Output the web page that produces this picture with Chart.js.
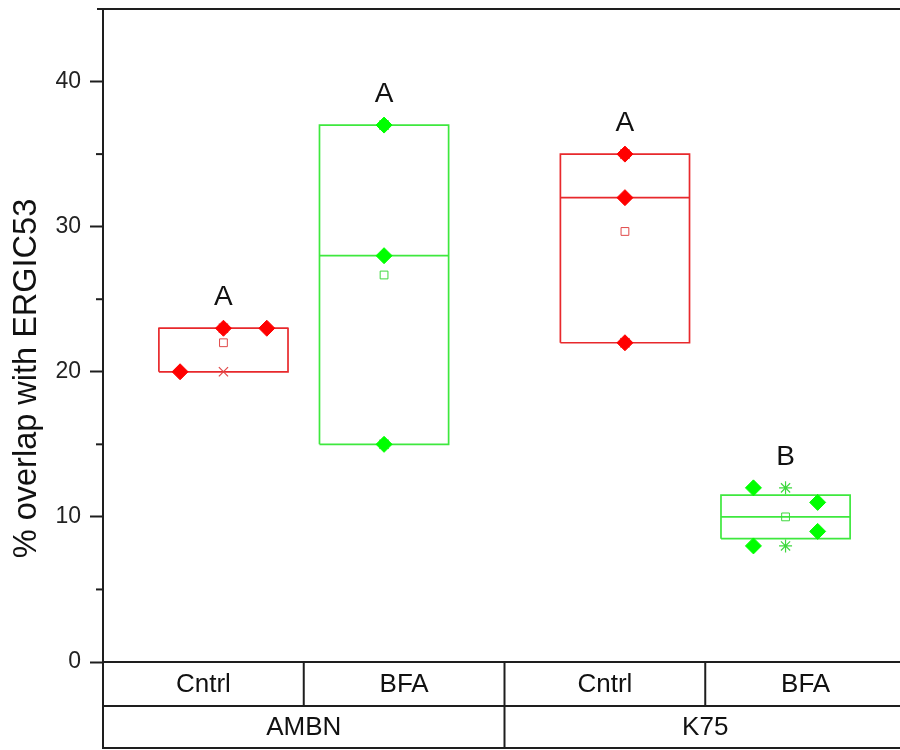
<!DOCTYPE html>
<html><head><meta charset="utf-8">
<script src="https://cdn.jsdelivr.net/npm/chart.js@4/dist/chart.umd.min.js"></script>
<style>html,body{margin:0;padding:0;background:#fff;overflow:hidden}canvas{display:block}</style>
</head><body><canvas id="c" width="915" height="750"></canvas>
<script>
// ---- data ----
const groups = ['AMBN', 'K75'];
const treatments = ['Cntrl', 'BFA', 'Cntrl', 'BFA'];
const ambnCntrl = [20, 23, 23];
const ambnBfa = [15, 28, 37];
const k75Cntrl = [22, 32, 35];
const k75Bfa = [8, 12, 9, 11];
const q1 = [20, 15, 22, 8.5];
const medians = [23, 28, 32, 10];
const q3 = [23, 37, 35, 11.5];
const means = [22, 26.67, 29.67, 10];
const pctLow = [20, 15, 22, 8];
const pctHigh = [23, 37, 35, 12];
const letters = ['A', 'A', 'A', 'B'];
const yTicks = [0, 10, 20, 30, 40];
const yMinorTicks = [5, 15, 25, 35];
const yTitle = '% overlap with ERGIC53';

// ---- layout / style (not data) ----
const rawSets = [ambnCntrl, ambnBfa, k75Cntrl, k75Bfa];
const jitter = [[-0.27, 0, 0.27], [0, 0, 0], [0, 0, 0], [-0.2, -0.2, 0.2, 0.2]];
const pos = i => 1 + i + 0.5 * Math.floor(i / 2);
const HALF = 0.402;
const FONT = "'Liberation Sans', Arial, sans-serif";
const INK = '#1e1e1e';
const palette = {
  Cntrl: { mark: '#ff0000', line: '#e8292c', mean: '#e04848' },
  BFA: { mark: '#00ff00', line: '#3ee83e', mean: '#3fd83f' }
};

const datasets = [];
treatments.forEach((t, i) => {
  const c = palette[t];
  const p = pos(i);
  datasets.push({
    data: [{x: p - HALF, y: q1[i]}, {x: p + HALF, y: q1[i]}, {x: p + HALF, y: q3[i]}, {x: p - HALF, y: q3[i]}, {x: p - HALF, y: q1[i]}],
    showLine: true, borderColor: c.line, borderWidth: 1.7, pointRadius: 0, fill: false, order: 5
  });
  datasets.push({
    data: [{x: p - HALF, y: medians[i]}, {x: p + HALF, y: medians[i]}],
    showLine: true, borderColor: c.line, borderWidth: 1.7, pointRadius: 0, fill: false, order: 4
  });
  datasets.push({
    data: [{x: p, y: means[i]}],
    pointStyle: 'rect', pointRadius: 5.5, borderColor: c.mean, backgroundColor: 'rgba(255,255,255,0)', borderWidth: 1, order: 3
  });
  datasets.push({
    data: [{x: p, y: pctLow[i]}, {x: p, y: pctHigh[i]}],
    pointStyle: i === 3 ? 'star' : 'crossRot', pointRadius: 6.5, borderColor: c.mean, backgroundColor: c.mean, borderWidth: 1.2, order: 2
  });
  datasets.push({
    data: rawSets[i].map((v, k) => ({x: p + jitter[i][k], y: v})),
    pointStyle: 'rectRot', pointRadius: 8, borderColor: c.mark, backgroundColor: c.mark, borderWidth: 1, order: 0
  });
});

const decor = {
  id: 'decor',
  afterDraw(chart) {
    const {ctx, scales: {x, y}, chartArea: a} = chart;
    const bottomRow1 = a.bottom + 44, bottomRow2 = a.bottom + 86;
    ctx.save();
    ctx.strokeStyle = INK; ctx.lineWidth = 2; ctx.lineCap = 'butt';
    const line = (x1, y1, x2, y2) => { ctx.beginPath(); ctx.moveTo(x1, y1); ctx.lineTo(x2, y2); ctx.stroke(); };
    line(a.left, a.top - 1, a.left, bottomRow2 + 1);
    line(a.left - 6, a.top, a.right, a.top);
    yMinorTicks.forEach(v => { const py = y.getPixelForValue(v); line(a.left - 7, py, a.left, py); });
    line(a.left, a.bottom, a.right, a.bottom);
    line(a.left, bottomRow1, a.right, bottomRow1);
    line(a.left, bottomRow2, a.right, bottomRow2);
    const bounds = [x.min];
    for (let i = 0; i < treatments.length - 1; i++) bounds.push((pos(i) + pos(i + 1)) / 2);
    bounds.push(x.max);
    for (let i = 1; i < bounds.length - 1; i++) {
      const px = x.getPixelForValue(bounds[i]);
      const groupEdge = (i % 2 === 0);
      line(px, a.bottom, px, groupEdge ? bottomRow2 : bottomRow1);
    }
    ctx.fillStyle = '#111';
    ctx.textAlign = 'center'; ctx.textBaseline = 'middle';
    ctx.font = '26px ' + FONT;
    treatments.forEach((t, i) => {
      const cx = x.getPixelForValue((bounds[i] + bounds[i + 1]) / 2);
      ctx.fillText(t, cx, (a.bottom + bottomRow1) / 2 + 1);
    });
    groups.forEach((g, gi) => {
      const cx = x.getPixelForValue((bounds[gi * 2] + bounds[gi * 2 + 2]) / 2);
      ctx.fillText(g, cx, (bottomRow1 + bottomRow2) / 2 + 1);
    });
    ctx.font = '28px ' + FONT;
    letters.forEach((L, i) => {
      const top = Math.max(...rawSets[i]);
      ctx.fillText(L, x.getPixelForValue(pos(i)), y.getPixelForValue(top) - 31);
    });
    ctx.translate(27, (a.top + bottomRow2) / 2);
    ctx.rotate(-Math.PI / 2);
    ctx.font = '32.5px ' + FONT;
    ctx.fillText(yTitle, 0, 0);
    ctx.restore();
  }
};

new Chart(document.getElementById('c'), {
  type: 'scatter',
  data: { datasets },
  options: {
    responsive: false, animation: false,
    layout: { padding: { top: 7, bottom: 88, left: 0, right: 8 } },
    plugins: { legend: { display: false }, tooltip: { enabled: false } },
    scales: {
      x: { type: 'linear', min: 0.25, max: 5.25, display: false },
      y: {
        min: 0, max: 45,
        afterBuildTicks: s => { s.ticks = yTicks.map(v => ({ value: v })); },
        afterFit: s => { s.width = 103; s.paddingTop = 0; s.paddingBottom = 0; },
        ticks: { font: { family: FONT, size: 23 }, color: '#222', padding: 9 },
        grid: { drawOnChartArea: false, drawTicks: true, tickLength: 13, tickColor: INK, tickWidth: 2 },
        border: { display: true, color: INK, width: 2 }
      }
    }
  },
  plugins: [decor]
});
</script>
</body></html>
